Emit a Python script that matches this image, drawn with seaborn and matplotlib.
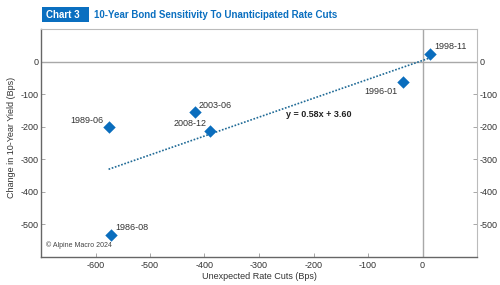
import matplotlib
matplotlib.use("Agg")
import matplotlib.pyplot as plt
from matplotlib.patches import Rectangle
import seaborn as sns
import pandas as pd
import numpy as np

labels = ["1998-11", "1996-01", "2003-06", "2008-12", "1989-06", "1986-08"]
rate_cuts = [14, -35, -418, -389, -576, -571]
yield_change = [24, -62, -156, -213, -200, -533]
slope = 0.58
intercept = 3.60
x_ticks = [-600, -500, -400, -300, -200, -100, 0]
y_ticks = [0, -100, -200, -300, -400, -500]

df = pd.DataFrame({"x": rate_cuts, "y": yield_change, "label": labels})

sns.set_theme(style="white")
plt.rcParams["font.family"] = ["Liberation Sans", "DejaVu Sans"]
plt.rcParams["axes.unicode_minus"] = False

fig = plt.figure(figsize=(5, 2.85), dpi=100)
ax = fig.add_axes([0.082, 0.098, 0.872, 0.80])

blue = "#0a6dbd"
line_c = "#1f6a96"

# reference lines
ax.axhline(0, color="#a8a8a8", lw=1.0, zorder=1)
ax.axvline(0, color="#a8a8a8", lw=1.0, zorder=1)

# trend line
xs = np.array([min(rate_cuts), max(rate_cuts)])
ax.plot(xs, slope * xs + intercept, ls=(0, (1, 1)), color=line_c, lw=1.2, zorder=2)

sns.scatterplot(data=df, x="x", y="y", marker="D", s=40, color=blue,
                edgecolor=blue, linewidth=0, ax=ax, zorder=3)

offsets = {
    "1998-11": (3, 2, "left", "bottom"),
    "1996-01": (-4, -4, "right", "top"),
    "2003-06": (3, 2, "left", "bottom"),
    "2008-12": (-3, 2, "right", "bottom"),
    "1989-06": (-4, 1, "right", "bottom"),
    "1986-08": (3, 2, "left", "bottom"),
}
for lab, xv, yv in zip(labels, rate_cuts, yield_change):
    dx, dy, ha, va = offsets[lab]
    ax.annotate(lab, (xv, yv), xytext=(dx, dy), textcoords="offset points",
                ha=ha, va=va, fontsize=6.5, color="#333333")

ax.text(-190, -161, f"y = {slope:.2f}x + {intercept:.2f}", fontsize=6.5,
        fontweight="bold", color="#222222", ha="center", va="center")

ax.text(0.012, 0.035, "© Alpine Macro 2024", transform=ax.transAxes,
        fontsize=5, color="#444444", ha="left", va="bottom")

ax.set_xlim(-700, 100)
ax.set_ylim(-600, 100)
ax.set_xticks(x_ticks)
ax.set_yticks(y_ticks)
ax.tick_params(axis="both", direction="in", length=3, width=0.6,
               color="#999999", labelsize=6.5, labelcolor="#333333", pad=2)
ax.tick_params(axis="y", right=True, labelright=True, left=True)
ax.tick_params(axis="x", bottom=True, pad=3)

for side in ["left", "bottom"]:
    ax.spines[side].set_color("#666666")
    ax.spines[side].set_linewidth(1.0)
for side in ["top", "right"]:
    ax.spines[side].set_color("#bbbbbb")
    ax.spines[side].set_linewidth(0.8)

ax.set_xlabel("Unexpected Rate Cuts (Bps)", fontsize=6.5, color="#333333", labelpad=1)
ax.set_ylabel("Change in 10-Year Yield (Bps)", fontsize=6.5, color="#333333")
ax.yaxis.set_label_coords(-0.057, 0.526)

# title band
fig.patches.append(Rectangle((0.084, 0.923), 0.094, 0.052, transform=fig.transFigure,
                             facecolor="#0a6fc0", edgecolor="none"))
fig.text(0.092, 0.949, "Chart 3", fontsize=7, fontweight="bold", color="white",
         ha="left", va="center")
fig.text(0.188, 0.949, "10-Year Bond Sensitivity To Unanticipated Rate Cuts",
         fontsize=7, fontweight="bold", color="#0a6fc0", ha="left", va="center")

fig.savefig("out.png", dpi=100)
